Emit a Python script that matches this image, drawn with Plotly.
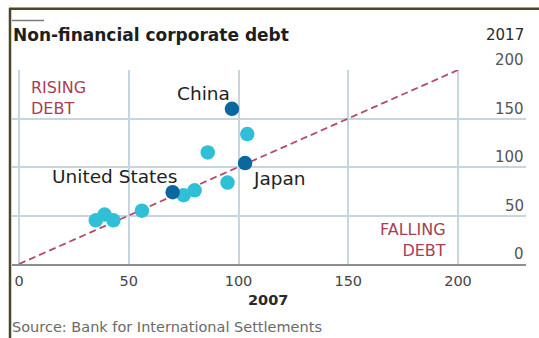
import plotly.graph_objects as go

# Corporate debt, % of GDP: 2007 (x) vs 2017 (y)
others_2007 = [104, 86, 95, 75, 80, 56, 39, 35, 43]
others_2017 = [134, 115, 84, 71, 76, 55, 51, 45, 45]

named = ["China", "Japan", "United States"]
named_2007 = [97, 103, 70]
named_2017 = [160, 104, 74]

axis_ticks = [0, 50, 100, 150, 200]

W, H = 539, 338
L, R, T, B = 12, 13, 70, 74
PW, PH = W - L - R, H - T - B

X0_PX = 19          # pixel column of x = 0
X_SCALE = (458 - X0_PX) / 200.0
x_range = [(L - X0_PX) / X_SCALE, (L + PW - X0_PX) / X_SCALE]

LIGHT = "#30bfd6"
DARK = "#0b67a0"
RED = "#a83e55"
GRID = "#c6d6e1"
FONT = "DejaVu Sans"


def px_x(p):
    return (p - L) / PW


def px_y(p):
    return (H - B - p) / PH


fig = go.Figure()

# 45-degree reference line
fig.add_trace(go.Scatter(
    x=[0, 200], y=[0, 200], mode="lines",
    line=dict(color="#b24c64", width=1.8, dash="7px,4px"),
    hoverinfo="skip", showlegend=False,
))

fig.add_trace(go.Scatter(
    x=others_2007, y=others_2017, mode="markers",
    marker=dict(color=LIGHT, size=14.5, line=dict(width=0)),
    showlegend=False,
))
fig.add_trace(go.Scatter(
    x=named_2007, y=named_2017, mode="markers", text=named,
    marker=dict(color=DARK, size=14.5, line=dict(width=0)),
    showlegend=False,
))

annotations = []

# country labels
label_pos = {"China": (84, 176), "Japan": (118.5, 88.5), "United States": (43.3, 90.5)}
for name in named:
    lx, ly = label_pos[name]
    annotations.append(dict(
        x=lx, y=ly, xref="x", yref="y", text=name, showarrow=False,
        font=dict(family=FONT, size=18.5, color="#222222"),
        xanchor="center", yanchor="middle",
    ))

# zone labels
annotations.append(dict(
    x=4.4, y=171.5, xref="x", yref="y", text="RISING<br>DEBT", showarrow=False,
    align="left", xanchor="left", yanchor="middle",
    font=dict(family=FONT, size=16, color=RED),
))
annotations.append(dict(
    x=195.6, y=24.5, xref="x", yref="y", text="FALLING<br>DEBT", showarrow=False,
    align="right", xanchor="right", yanchor="middle",
    font=dict(family=FONT, size=16, color=RED),
))

# y tick labels sit above the gridlines at the right edge
for v in axis_ticks:
    annotations.append(dict(
        x=1, y=v, xref="paper", yref="y", text=str(v), showarrow=False,
        xanchor="right", yanchor="bottom", yshift=-1,
        font=dict(family=FONT, size=15, color="#555555"),
    ))

# title, year labels, source
annotations += [
    dict(x=px_x(11), y=px_y(35), xref="paper", yref="paper",
         text="<b>Non-financial corporate debt</b>", showarrow=False,
         xanchor="left", yanchor="middle",
         font=dict(family=FONT, size=17, color="#1e1e1e")),
    dict(x=1, y=px_y(35), xref="paper", yref="paper", text="2017",
         showarrow=False, xanchor="right", yanchor="middle",
         font=dict(family=FONT, size=15, color="#2a2a2a")),
    dict(x=px_x(268), y=px_y(300),
         xref="paper", yref="paper", text="<b>2007</b>", showarrow=False,
         xanchor="center", yanchor="middle",
         font=dict(family=FONT, size=14.5, color="#2a2a2a")),
    dict(x=px_x(10), y=px_y(327), xref="paper", yref="paper",
         text="Source: Bank for International Settlements", showarrow=False,
         xanchor="left", yanchor="middle",
         font=dict(family=FONT, size=14.5, color="#6a6a6a")),
]

shapes = [
    # frame: top and left rules
    dict(type="line", xref="paper", yref="paper",
         x0=px_x(9), x1=px_x(W), y0=px_y(8.8), y1=px_y(8.8),
         line=dict(color="#4b4628", width=2.5)),
    dict(type="line", xref="paper", yref="paper",
         x0=px_x(10), x1=px_x(10), y0=px_y(8), y1=px_y(H),
         line=dict(color="#4b4628", width=2.5)),
    # short rule above the title
    dict(type="line", xref="paper", yref="paper",
         x0=px_x(12), x1=px_x(44), y0=px_y(20.5), y1=px_y(20.5),
         line=dict(color="#7a7a7a", width=1.5)),
]

fig.update_layout(
    width=W, height=H,
    margin=dict(l=L, r=R, t=T, b=B, pad=0),
    paper_bgcolor="white", plot_bgcolor="white",
    annotations=annotations, shapes=shapes,
    hovermode=False,
)
fig.update_xaxes(
    range=x_range, tickvals=axis_ticks, ticktext=[str(v) for v in axis_ticks],
    showgrid=True, gridcolor=GRID, gridwidth=1.5, zeroline=False,
    showline=True, linecolor="#8e8e8e", linewidth=1.5,
    ticks="outside", ticklen=3, tickcolor="rgba(0,0,0,0)",
    tickfont=dict(family=FONT, size=14.5, color="#444444"),
)
fig.update_yaxes(
    range=[0, 200], tickvals=axis_ticks, showticklabels=False,
    showgrid=True, gridcolor=GRID, gridwidth=1.5, zeroline=False,
)

fig.write_html("out.html")
